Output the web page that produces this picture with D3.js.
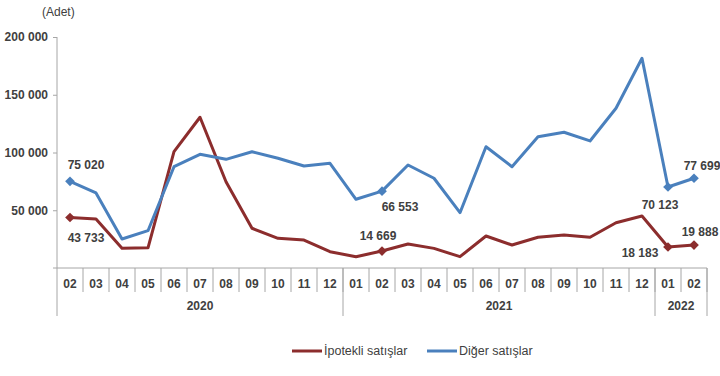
<!DOCTYPE html>
<html>
<head>
<meta charset="utf-8">
<script src="https://cdn.jsdelivr.net/npm/d3@7"></script>
<style>
  body { margin: 0; background: #fff; }
  text { font-family: "Liberation Sans", Arial, sans-serif; fill: #404040; }
  .axis text { font-size: 12px; }
  .axis line, .axis path { stroke: #a6a6a6; }
</style>
</head>
<body>
<div id="container"></div>
<script>
const WIDTH = 720;
const HEIGHT = 376;
const LEFT = 57;
const RIGHT = 707;
const TOP = 37;
const BASE = 268;

// categories
var MONTHS = ["02","03","04","05","06","07","08","09","10","11","12",
  "01","02","03","04","05","06","07","08","09","10","11","12",
  "01","02"];
var YEARS = [{label: "2020", count: 11}, {label: "2021", count: 12}, {label: "2022", count: 2}];

// series values
var IPOTEKLI = [43733, 42400, 17000, 17500, 100700, 130500, 74700, 34400, 25700, 24200, 14100,
  9800, 14669, 20800, 17000, 9800, 27700, 19900, 26600, 28600, 26600, 39200, 45000,
  18183, 19888];
var DIGER = [75020, 65000, 25100, 32300, 87700, 98400, 94100, 100700, 95000, 88300, 90600,
  59500, 66553, 89200, 77700, 47900, 105000, 87700, 113700, 117500, 110000, 138300, 181600,
  70123, 77699];

// tick labels
var Y_TICKS = [50000, 100000, 150000, 200000];
var MARKED = [0, 12, 23, 24];

var fmt = function (v) {
  return d3.format(",")(v).replace(/,/g, " ");
};

var XScale = d3.scaleBand()
  .domain(d3.range(MONTHS.length))
  .range([LEFT, RIGHT]);

var YScale = d3.scaleLinear()
  .domain([0, 200000])
  .range([BASE, TOP]);

var xc = function (i) { return XScale(i) + XScale.bandwidth() / 2; };

var svg = d3.select("#container").append("svg")
  .attr("width", WIDTH)
  .attr("height", HEIGHT);

svg.append("text")
  .attr("x", 42).attr("y", 16)
  .style("font-size", "12px")
  .text("(Adet)");

// y axis
var yAxis = svg.append("g")
  .classed("axis", true)
  .attr("transform", "translate(" + LEFT + ",0)")
  .call(d3.axisLeft(YScale).tickValues(Y_TICKS).tickFormat(fmt).tickSize(4).tickPadding(5));
yAxis.select(".domain").remove();
yAxis.selectAll("text").style("font-weight", "bold").style("fill", "#404040");

svg.append("line")
  .attr("x1", LEFT).attr("x2", LEFT)
  .attr("y1", YScale(200000)).attr("y2", 316)
  .attr("stroke", "#a6a6a6");

// x axis baseline and separators
svg.append("line")
  .attr("x1", LEFT - 4).attr("x2", RIGHT)
  .attr("y1", BASE).attr("y2", BASE)
  .attr("stroke", "#a6a6a6");

var xg = svg.append("g").classed("axis", true);
xg.selectAll("line.sep")
  .data(d3.range(1, MONTHS.length + 1))
  .enter().append("line")
  .attr("x1", function (i) { return i < MONTHS.length ? XScale(i) : RIGHT; })
  .attr("x2", function (i) { return i < MONTHS.length ? XScale(i) : RIGHT; })
  .attr("y1", BASE).attr("y2", 292)
  .attr("stroke", "#a6a6a6");

xg.selectAll("text.month")
  .data(MONTHS)
  .enter().append("text")
  .attr("x", function (d, i) { return xc(i); })
  .attr("y", 288)
  .attr("text-anchor", "middle")
  .style("font-weight", "bold")
  .text(function (d) { return d; });

var start = 0;
YEARS.forEach(function (y) {
  var x0 = XScale(start);
  var end = start + y.count;
  var x1 = end < MONTHS.length ? XScale(end) : RIGHT;
  svg.append("line")
    .attr("x1", x1).attr("x2", x1)
    .attr("y1", BASE).attr("y2", 316)
    .attr("stroke", "#a6a6a6");
  svg.append("text")
    .attr("x", (x0 + x1) / 2)
    .attr("y", 310)
    .attr("text-anchor", "middle")
    .style("font-size", "12px")
    .style("font-weight", "bold")
    .text(y.label);
  start = end;
});

// lines
var line = d3.line()
  .x(function (d, i) { return xc(i); })
  .y(function (d) { return YScale(d); });

var SERIES = [
  {name: "İpotekli satışlar", values: IPOTEKLI, color: "#8c2d2d"},
  {name: "Diğer satışlar", values: DIGER, color: "#4a80bd"}
];

SERIES.forEach(function (s) {
  svg.append("path")
    .datum(s.values)
    .attr("d", line)
    .attr("fill", "none")
    .attr("stroke", s.color)
    .attr("stroke-width", 3)
    .attr("stroke-linejoin", "round");

  svg.selectAll(null)
    .data(MARKED)
    .enter().append("path")
    .attr("d", d3.symbol(d3.symbolDiamond2, 60))
    .attr("transform", function (i) {
      return "translate(" + xc(i) + "," + YScale(s.values[i]) + ")";
    })
    .attr("fill", s.color);
});

// data labels: [series, index, dx, dy]
var LABELS = [
  [1, 0, 16, -12], [0, 0, 16, 25],
  [1, 12, 18, 20], [0, 12, -4, -11],
  [1, 23, -8, 22], [0, 23, -28, 10],
  [1, 24, 8, -8], [0, 24, 6, -9]
];

svg.selectAll("text.val")
  .data(LABELS)
  .enter().append("text")
  .attr("x", function (d) { return xc(d[1]) + d[2]; })
  .attr("y", function (d) { return YScale(SERIES[d[0]].values[d[1]]) + d[3]; })
  .attr("text-anchor", "middle")
  .style("font-size", "12px")
  .style("font-weight", "bold")
  .text(function (d) { return fmt(SERIES[d[0]].values[d[1]]); });

// legend
var legend = [{s: SERIES[0], x: 292}, {s: SERIES[1], x: 427}];
legend.forEach(function (l) {
  svg.append("line")
    .attr("x1", l.x).attr("x2", l.x + 30)
    .attr("y1", 351).attr("y2", 351)
    .attr("stroke", l.s.color)
    .attr("stroke-width", 3);
  svg.append("text")
    .attr("x", l.x + 32).attr("y", 355)
    .style("font-size", "12.5px")
    .text(l.s.name);
});
</script>
</body>
</html>
